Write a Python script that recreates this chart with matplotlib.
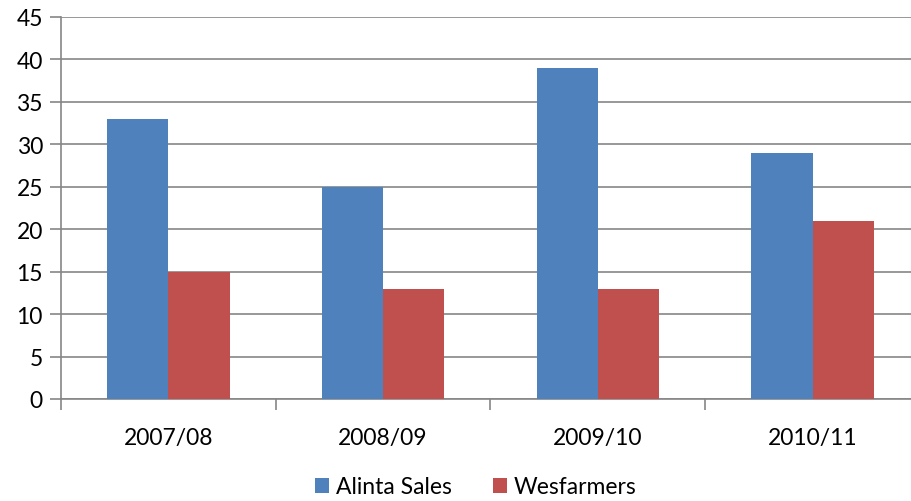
import numpy as np
import matplotlib
matplotlib.use("Agg")
import matplotlib.pyplot as plt

plt.rcParams['font.family'] = ['Lato', 'DejaVu Sans']

years = ['2007/08', '2008/09', '2009/10', '2010/11']
alinta_sales = [33, 25, 39, 29]
wesfarmers = [15, 13, 13, 21]

blue = '#4F81BD'
red = '#C0504D'
axis_grey = '#868686'

fig = plt.figure(figsize=(9.12, 5.02), dpi=100)
W, H = 912, 502
left, right, top, bottom = 61, 920, 18, 400
ax = fig.add_axes([left / W, 1 - bottom / H, (right - left) / W, (bottom - top) / H])

x = np.arange(len(years))
bw = 1 / 3.5
ax.bar(x - bw / 2, alinta_sales, bw, color=blue, label='Alinta Sales', zorder=3)
ax.bar(x + bw / 2, wesfarmers, bw, color=red, label='Wesfarmers', zorder=3)

ax.set_xlim(-0.5, len(years) - 0.5)
ax.set_ylim(0, 45)
ax.set_yticks(np.arange(0, 46, 5))
ax.yaxis.grid(True, color=axis_grey, linewidth=1.2, zorder=0)

# category ticks sit on the boundaries between groups
ax.set_xticks(np.arange(-0.5, len(years), 1))
ax.set_xticklabels([])
ax.set_xticks(x, minor=True)
ax.set_xticklabels(years, minor=True)
ax.tick_params(axis='x', which='major', length=8, width=1.2, color=axis_grey, direction='out')
ax.tick_params(axis='x', which='minor', length=0, pad=20, labelsize=16.5)
ax.tick_params(axis='y', length=8, width=1.2, color=axis_grey, labelsize=16.5, pad=5)

for s in ['top', 'right']:
    ax.spines[s].set_visible(False)
for s in ['left', 'bottom']:
    ax.spines[s].set_color(axis_grey)
    ax.spines[s].set_linewidth(1.2)

fig.legend(loc='center', bbox_to_anchor=(476 / W, 1 - 488 / H), ncol=2, frameon=False,
           fontsize=16.5, handlelength=0.6, handleheight=0.6, handletextpad=0.3, columnspacing=1.8)

fig.savefig('out.png', dpi=100)
